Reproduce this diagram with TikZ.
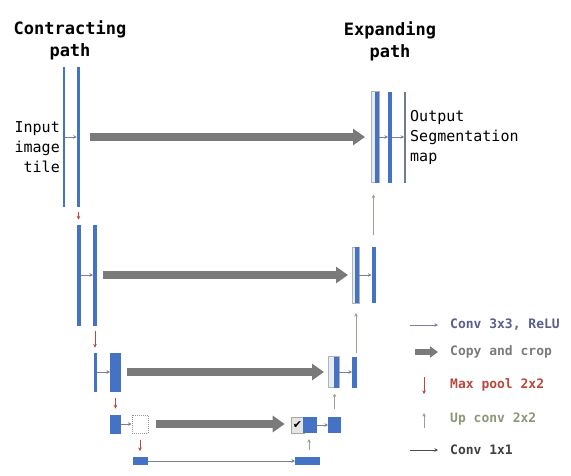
\documentclass[tikz,border=0pt]{standalone}
\usepackage{fontspec}
\usepackage{xcolor}
\usetikzlibrary{arrows.meta}
\newfontfamily\mono{DejaVu Sans Mono}
\newfontfamily\symb{DejaVu Sans}
\definecolor{ublue}{HTML}{4472C4}
\definecolor{ulite}{HTML}{E4ECF7}
\definecolor{kgray}{HTML}{7A7A7A}
\definecolor{cgray}{HTML}{7A8090}
\definecolor{pred}{HTML}{B8473C}
\definecolor{ugreen}{HTML}{97A290}
\definecolor{lconv}{HTML}{5B5F8C}
\definecolor{lup}{HTML}{8A9878}
\tikzset{
  blk/.style={fill=ublue, draw=none, inner sep=0pt, outer sep=0pt},
  lite/.style={fill=ulite, draw=gray!60, line width=.6pt, inner sep=0pt, outer sep=0pt},
  conv/.style={draw=cgray, line width=.8pt, -{Stealth[length=3.5pt,width=3.5pt]}},
  copyc/.style={draw=kgray, line width=8pt, -{Triangle[length=12pt,width=16pt]}},
  pool/.style={draw=pred, line width=.8pt, -{Stealth[length=3.5pt,width=3.5pt]}},
  upc/.style={draw=ugreen, line width=.8pt, -{Stealth[length=3.5pt,width=3.5pt]}},
  ttl/.style={align=center, font=\mono\bfseries\fontsize{17}{22}\selectfont},
  lbl/.style={font=\mono\fontsize{15}{20}\selectfont, inner sep=0pt},
  leg/.style={anchor=west, inner sep=0pt, font=\mono\bfseries\fontsize{13}{16}\selectfont},
}
\begin{document}
\begin{tikzpicture}[x=1pt, y=-1pt]
\useasboundingbox (0,0) rectangle (571,475);
% titles
\node[ttl] (ctitle) at (70,40) {Contracting\\path};
\node[ttl] (etitle) at (390,41) {Expanding\\path};
% contracting side
\node[blk, minimum width=1.6pt, minimum height=140pt] (in1) at (64,137) {};
\node[blk, minimum width=3.5pt, minimum height=140pt] (c11) at (78.5,137) {};
\node[blk, minimum width=4pt, minimum height=101pt] (c21) at (79,275) {};
\node[blk, minimum width=4pt, minimum height=101pt] (c22) at (95,275) {};
\node[blk, minimum width=3pt, minimum height=39pt] (c31) at (95.5,372) {};
\node[blk, minimum width=11pt, minimum height=39pt] (c32) at (115.5,372) {};
\node[blk, minimum width=11pt, minimum height=19pt] (c41) at (115.5,424) {};
\node[fill=white, draw=gray!80, densely dotted, line width=1pt, inner sep=0pt,
  minimum width=16pt, minimum height=18pt] (crop) at (140,424) {};
\node[blk, minimum width=15pt, minimum height=8pt] (b1) at (140.5,461) {};
\node[blk, minimum width=25pt, minimum height=8pt] (b2) at (307.5,461) {};
% expanding side
\node[lite, minimum width=8pt, minimum height=91pt] (lt1) at (375,137) {};
\node[blk, minimum width=4pt, minimum height=91pt] (e11) at (377,137) {};
\node[blk, minimum width=4pt, minimum height=91pt] (e12) at (390,137) {};
\node[fill=gray!70!ublue, inner sep=0pt, minimum width=1.4pt, minimum height=91pt] (out1) at (405,137) {};
\node[lite, minimum width=7pt, minimum height=56pt] (l2) at (355.5,275) {};
\node[blk, minimum width=4pt, minimum height=56pt] (e21) at (357,275) {};
\node[blk, minimum width=4pt, minimum height=56pt] (e22) at (373.5,275) {};
\node[lite, minimum width=11pt, minimum height=31pt] (l3) at (333.5,372) {};
\node[blk, minimum width=5pt, minimum height=31pt] (e31) at (336.5,372) {};
\node[blk, minimum width=5pt, minimum height=31pt] (e32) at (354.5,372) {};
\node[fill=gray!20, draw=gray!70, line width=.6pt, inner sep=0pt,
  minimum width=13pt, minimum height=16pt, font=\symb\fontsize{11}{11}\selectfont] (chk) at (297.5,425) {✔};
\node[blk, minimum width=14pt, minimum height=16pt] (e41) at (310,425) {};
\node[blk, minimum width=13pt, minimum height=16pt] (e42) at (334.5,425) {};
% texts
\node[lbl, anchor=east, align=right] (intxt) at (60,147) {Input\\image\\tile};
\node[lbl, anchor=west, align=left] (outtxt) at (410,137) {Output\\Segmentation\\map};
% copy and crop
\draw[copyc, shorten <=9.5pt, shorten >=6pt] (c11.east) -- (lt1.west);
\draw[copyc, shorten <=6pt, shorten >=4pt] (c22.east) -- (l2.west);
\draw[copyc, shorten <=6pt, shorten >=4pt] (c32.east) -- (l3.west);
\draw[copyc, shorten <=7pt, shorten >=6pt] (crop.east) -- (chk.west |- crop.east);
% conv 3x3
\draw[conv] (in1.east) -- (c11.west);
\draw[conv] (c21.east) -- (c22.west);
\draw[conv] (c31.east) -- (c32.west);
\draw[conv] (c41.east) -- (crop.west);
\draw[conv] (b1.east) -- (b2.west);
\draw[conv] (e41.east) -- (e42.west);
\draw[conv] (e31.east) -- (e32.west);
\draw[conv] (e21.east) -- (e22.west);
\draw[conv] (e11.east) -- (e12.west);
\draw[conv] (e12.east) -- (out1.west);
% max pool
\draw[pool, shorten <=5pt, shorten >=5pt] (c11.south) -- (c11.south |- c21.north);
\draw[pool, shorten <=5pt, shorten >=5pt] (c22.south) -- (c22.south |- c31.north);
\draw[pool, shorten <=6pt, shorten >=6pt] (c32.south) -- (c41.north);
\draw[pool, shorten <=6pt, shorten >=6pt] (crop.south) -- (crop.south |- b1.north);
% up conv
\draw[upc, shorten <=7pt, shorten >=6pt] ([xshift=1.5pt]b2.north) -- ([xshift=1.5pt]b2.north |- e41.south);
\draw[upc, shorten <=8pt, shorten >=6pt] (e42.north) -- (e42.north |- l3.south);
\draw[upc, shorten <=4pt, shorten >=10pt] ([xshift=1.5pt]e32.north) -- ([xshift=1.5pt]e32.north |- l2.south);
\draw[upc, shorten <=12pt, shorten >=12pt] (e22.north) -- (e22.north |- lt1.south);
% legend
\node[leg, text=lconv] (k1) at (450,325) {Conv 3x3, ReLU};
\node[leg, text=kgray] (k2) at (450,352) {Copy and crop};
\node[leg, text=pred] (k3) at (450,385) {Max pool 2x2};
\node[leg, text=lup] (k4) at (450,419) {Up conv 2x2};
\node[leg, text=black!75] (k5) at (450,450) {Conv 1x1};
\coordinate (a1) at (410,325);
\coordinate (a2) at (415,352);
\coordinate (a3) at (424,377);
\coordinate (a4) at (424,428);
\coordinate (a5) at (410,450);
\draw[conv, draw=lconv!80] (a1) -- ++(28,0);
\draw[copyc, line width=6pt, -{Triangle[length=8pt,width=11pt]}] (a2) -- ++(23,0);
\draw[pool] (a3) -- ++(0,17);
\draw[upc] (a4) -- ++(0,-15);
\draw[conv, draw=black!70] (a5) -- ++(28,0);
\end{tikzpicture}
\end{document}
